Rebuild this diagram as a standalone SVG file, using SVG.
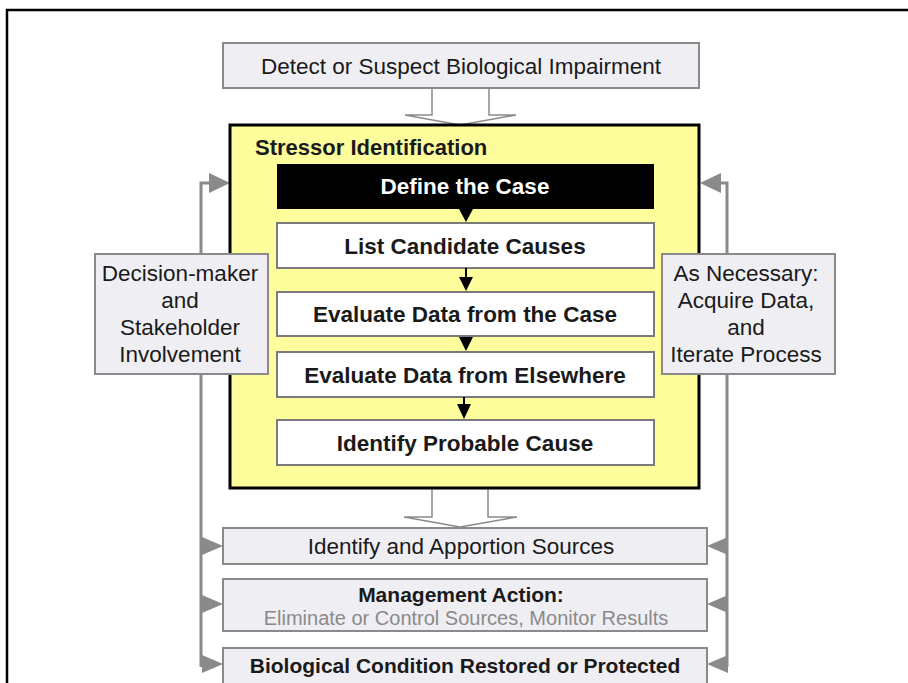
<svg xmlns="http://www.w3.org/2000/svg" width="908" height="683" viewBox="0 0 908 683">
<style>
text{font-family:"Liberation Sans",Arial,sans-serif;fill:#1a1a1a;text-anchor:middle;dominant-baseline:central}
.b{font-weight:bold}
.gbox{fill:#efeff3;stroke:#8a8a8a;stroke-width:2}
.wbox{fill:#ffffff;stroke:#7a7a7a;stroke-width:2}
.gline{fill:none;stroke:#8a8a8a;stroke-width:3}
.ghead{fill:#8a8a8a}
.hollow{fill:#ffffff;stroke:#8a8a8a;stroke-width:1.5}
.bline{stroke:#000;stroke-width:2}
</style>
<rect width="908" height="683" fill="#ffffff"/>
<path d="M7 690 V10 H915" fill="none" stroke="#000" stroke-width="2.5"/>

<g id="connectors">
  <polyline class="gline" points="201,667 201,183 212,183"/>
  <polygon class="ghead" points="209,173 230,183 209,193"/>
  <polygon class="ghead" points="202,537 223,546 202,555"/>
  <polygon class="ghead" points="202,595 223,604 202,613"/>
  <polygon class="ghead" points="202,655 223,664 202,673"/>
  <polyline class="gline" points="727,667 727,183 718,183"/>
  <polygon class="ghead" points="721,173 700,183 721,193"/>
  <polygon class="ghead" points="728,537 707,546 728,555"/>
  <polygon class="ghead" points="728,595 707,604 728,613"/>
  <polygon class="ghead" points="728,655 707,664 728,673"/>
  <path class="hollow" d="M432 88 V115 H405 L460 125 L516 115 H489 V88"/>
  <path class="hollow" d="M432 489 V517 H404 L460 527 L517 517 H488 V489"/>
</g>

<g id="detect">
  <rect class="gbox" x="223" y="43" width="476" height="45"/>
  <text x="461" y="66" font-size="22.5">Detect or Suspect Biological Impairment</text>
</g>

<g id="stressor">
  <rect x="230" y="125" width="469" height="363" fill="#fdfd9b" stroke="#000" stroke-width="3"/>
  <text x="255" y="147" font-size="22" class="b" style="text-anchor:start">Stressor Identification</text>
</g>

<g id="define">
  <rect x="277" y="164" width="377" height="45" fill="#000"/>
  <text x="465" y="186" font-size="22.5" class="b" style="fill:#fff">Define the Case</text>
</g>
<g id="list">
  <rect class="wbox" x="277" y="223" width="377" height="45"/>
  <text x="465" y="246" font-size="22.5" class="b">List Candidate Causes</text>
</g>
<g id="evalcase">
  <rect class="wbox" x="277" y="292" width="377" height="44"/>
  <text x="465" y="314" font-size="22.5" class="b">Evaluate Data from the Case</text>
</g>
<g id="evalelse">
  <rect class="wbox" x="277" y="352" width="377" height="45"/>
  <text x="465" y="375" font-size="22.5" class="b">Evaluate Data from Elsewhere</text>
</g>
<g id="probable">
  <rect class="wbox" x="277" y="420" width="377" height="45"/>
  <text x="465" y="443" font-size="22.5" class="b">Identify Probable Cause</text>
</g>

<g id="inner-connectors">
  <polygon points="459,209 473,209 466,222" fill="#000"/>
  <line class="bline" x1="466" y1="268" x2="466" y2="279"/>
  <polygon points="459,277 473,277 466,291" fill="#000"/>
  <polygon points="459,337 473,337 466,351" fill="#000"/>
  <line class="bline" x1="464" y1="397" x2="464" y2="406"/>
  <polygon points="457,404 471,404 464,419" fill="#000"/>
</g>

<g id="decision">
  <rect class="gbox" x="95" y="254" width="173" height="120"/>
  <text x="180" y="273" font-size="22.5">Decision-maker</text>
  <text x="180" y="300" font-size="22.5">and</text>
  <text x="180" y="327" font-size="22.5">Stakeholder</text>
  <text x="180" y="354" font-size="22.5">Involvement</text>
</g>

<g id="necessary">
  <rect class="gbox" x="662" y="254" width="173" height="120"/>
  <text x="746" y="273" font-size="22.5">As Necessary:</text>
  <text x="746" y="300" font-size="22.5">Acquire Data,</text>
  <text x="746" y="327" font-size="22.5">and</text>
  <text x="746" y="354" font-size="22.5">Iterate Process</text>
</g>

<g id="apportion">
  <rect class="gbox" x="223" y="528" width="484" height="36"/>
  <text x="461" y="546" font-size="22.5">Identify and Apportion Sources</text>
</g>

<g id="management">
  <rect class="gbox" x="223" y="579" width="484" height="52"/>
  <text x="461" y="594" font-size="21" class="b">Management Action:</text>
  <text x="466" y="618" font-size="20" style="fill:#8a8a8a">Eliminate or Control Sources,  Monitor Results</text>
</g>

<g id="restored">
  <rect class="gbox" x="223" y="648" width="484" height="45"/>
  <text x="465" y="665" font-size="21" class="b">Biological Condition Restored or Protected</text>
</g>
</svg>
